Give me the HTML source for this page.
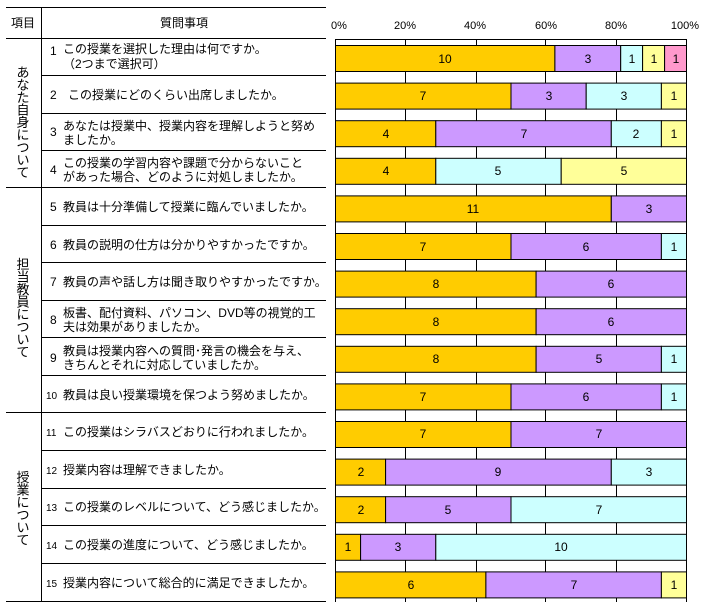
<!DOCTYPE html>
<html><head><meta charset="utf-8"><style>
body{margin:0;background:#fff;}
svg{display:block;font-family:"Liberation Sans","Noto Sans CJK JP",sans-serif;}
</style></head><body>
<svg width="706" height="615" xmlns="http://www.w3.org/2000/svg">
<g stroke="#000" stroke-width="1">
<line x1="6" y1="7.5" x2="326" y2="7.5"/>
<line x1="6" y1="38.5" x2="326" y2="38.5"/>
<line x1="6" y1="187.5" x2="326" y2="187.5"/>
<line x1="6" y1="412.5" x2="326" y2="412.5"/>
<line x1="6" y1="601.5" x2="326" y2="601.5"/>
<line x1="41.5" y1="7" x2="41.5" y2="602"/>
<line x1="41" y1="75.5" x2="326" y2="75.5"/>
<line x1="41" y1="113.5" x2="326" y2="113.5"/>
<line x1="41" y1="150.5" x2="326" y2="150.5"/>
<line x1="41" y1="225.5" x2="326" y2="225.5"/>
<line x1="41" y1="262.5" x2="326" y2="262.5"/>
<line x1="41" y1="300.5" x2="326" y2="300.5"/>
<line x1="41" y1="337.5" x2="326" y2="337.5"/>
<line x1="41" y1="375.5" x2="326" y2="375.5"/>
<line x1="41" y1="450.5" x2="326" y2="450.5"/>
<line x1="41" y1="488.5" x2="326" y2="488.5"/>
<line x1="41" y1="525.5" x2="326" y2="525.5"/>
<line x1="41" y1="563.5" x2="326" y2="563.5"/>
</g>
<g font-size="12" fill="#000">
<text x="11" y="27">項目</text>
<text x="184" y="27" text-anchor="middle">質問事項</text>
<text x="50" y="55">1</text><text x="63" y="53">この授業を選択した理由は何ですか。</text><text x="63" y="68">（2つまで選択可）</text>
<text x="50" y="99">2</text><text x="68" y="99">この授業にどのくらい出席しましたか。</text>
<text x="50" y="136">3</text><text x="63" y="130">あなたは授業中、授業内容を理解しようと努め</text><text x="63" y="144">ましたか。</text>
<text x="50" y="174">4</text><text x="63" y="167">この授業の学習内容や課題で分からないこと</text><text x="63" y="181">があった場合、どのように対処しましたか。</text>
<text x="50" y="211">5</text><text x="63" y="211">教員は十分準備して授業に臨んでいましたか。</text>
<text x="50" y="249">6</text><text x="63" y="249">教員の説明の仕方は分かりやすかったですか。</text>
<text x="50" y="286">7</text><text x="63" y="286">教員の声や話し方は聞き取りやすかったですか。</text>
<text x="50" y="324">8</text><text x="63" y="317">板書、配付資料、パソコン、DVD等の視覚的工</text><text x="63" y="331">夫は効果がありましたか。</text>
<text x="50" y="362">9</text><text x="63" y="355">教員は授業内容への質問･発言の機会を与え、</text><text x="63" y="369">きちんとそれに対応していましたか。</text>
<text x="46" y="399" font-size="10">10</text><text x="63" y="399">教員は良い授業環境を保つよう努めましたか。</text>
<text x="46" y="436" font-size="10">11</text><text x="63" y="436">この授業はシラバスどおりに行われましたか。</text>
<text x="46" y="474" font-size="10">12</text><text x="63" y="474">授業内容は理解できましたか。</text>
<text x="46" y="511" font-size="10">13</text><text x="63" y="511">この授業のレベルについて、どう感じましたか。</text>
<text x="46" y="549" font-size="10">14</text><text x="63" y="549">この授業の進度について、どう感じましたか。</text>
<text x="46" y="587" font-size="10">15</text><text x="63" y="587">授業内容について総合的に満足できましたか。</text>
</g>
<g font-size="13" fill="#000" text-anchor="middle">
<text x="23" y="77">あ</text><text x="23" y="89.5">な</text><text x="23" y="102">た</text><text x="23" y="114.5">自</text><text x="23" y="127">身</text><text x="23" y="139.5">に</text><text x="23" y="152">つ</text><text x="23" y="164.5">い</text><text x="23" y="177">て</text>
<text x="23" y="269">担</text><text x="23" y="281.5">当</text><text x="23" y="294">教</text><text x="23" y="306.5">員</text><text x="23" y="319">に</text><text x="23" y="331.5">つ</text><text x="23" y="344">い</text><text x="23" y="356.5">て</text>
<text x="23" y="482">授</text><text x="23" y="494.5">業</text><text x="23" y="507">に</text><text x="23" y="519.5">つ</text><text x="23" y="532">い</text><text x="23" y="544.5">て</text>
</g>
<g font-size="11" fill="#000" text-anchor="middle">
<text x="339" y="29">0%</text><text x="405" y="29">20%</text><text x="475" y="29">40%</text><text x="546" y="29">60%</text><text x="616" y="29">80%</text><text x="685" y="29">100%</text>
</g>
<g stroke="#000" stroke-width="1">
<line x1="335" y1="39.5" x2="686" y2="39.5"/>
<line x1="335.5" y1="39" x2="335.5" y2="602"/>
<line x1="405.5" y1="39" x2="405.5" y2="602"/>
<line x1="476.5" y1="39" x2="476.5" y2="602"/>
<line x1="545.5" y1="39" x2="545.5" y2="602"/>
<line x1="616.5" y1="39" x2="616.5" y2="602"/>
<line x1="686.5" y1="39" x2="686.5" y2="602"/>
</g>
<g stroke="#000" stroke-width="1">
<rect x="335.5" y="45.5" width="219.4" height="26" fill="#FFCC00"/><rect x="554.9" y="45.5" width="65.8" height="26" fill="#CC99FF"/><rect x="620.7" y="45.5" width="21.9" height="26" fill="#CCFFFF"/><rect x="642.6" y="45.5" width="22" height="26" fill="#FFFF99"/><rect x="664.6" y="45.5" width="21.9" height="26" fill="#FF99CC"/>
<rect x="335.5" y="83.1" width="175.5" height="26" fill="#FFCC00"/><rect x="511" y="83.1" width="75.2" height="26" fill="#CC99FF"/><rect x="586.2" y="83.1" width="75.2" height="26" fill="#CCFFFF"/><rect x="661.4" y="83.1" width="25.1" height="26" fill="#FFFF99"/>
<rect x="335.5" y="120.7" width="100.3" height="26" fill="#FFCC00"/><rect x="435.8" y="120.7" width="175.5" height="26" fill="#CC99FF"/><rect x="611.3" y="120.7" width="50.1" height="26" fill="#CCFFFF"/><rect x="661.4" y="120.7" width="25.1" height="26" fill="#FFFF99"/>
<rect x="335.5" y="158.3" width="100.3" height="26" fill="#FFCC00"/><rect x="435.8" y="158.3" width="125.4" height="26" fill="#CCFFFF"/><rect x="561.2" y="158.3" width="125.3" height="26" fill="#FFFF99"/>
<rect x="335.5" y="195.9" width="275.8" height="26" fill="#FFCC00"/><rect x="611.3" y="195.9" width="75.2" height="26" fill="#CC99FF"/>
<rect x="335.5" y="233.5" width="175.5" height="26" fill="#FFCC00"/><rect x="511" y="233.5" width="150.4" height="26" fill="#CC99FF"/><rect x="661.4" y="233.5" width="25.1" height="26" fill="#CCFFFF"/>
<rect x="335.5" y="271.1" width="200.6" height="26" fill="#FFCC00"/><rect x="536.1" y="271.1" width="150.4" height="26" fill="#CC99FF"/>
<rect x="335.5" y="308.7" width="200.6" height="26" fill="#FFCC00"/><rect x="536.1" y="308.7" width="150.4" height="26" fill="#CC99FF"/>
<rect x="335.5" y="346.3" width="200.6" height="26" fill="#FFCC00"/><rect x="536.1" y="346.3" width="125.3" height="26" fill="#CC99FF"/><rect x="661.4" y="346.3" width="25.1" height="26" fill="#CCFFFF"/>
<rect x="335.5" y="383.9" width="175.5" height="26" fill="#FFCC00"/><rect x="511" y="383.9" width="150.4" height="26" fill="#CC99FF"/><rect x="661.4" y="383.9" width="25.1" height="26" fill="#CCFFFF"/>
<rect x="335.5" y="421.5" width="175.5" height="26" fill="#FFCC00"/><rect x="511" y="421.5" width="175.5" height="26" fill="#CC99FF"/>
<rect x="335.5" y="459.1" width="50.1" height="26" fill="#FFCC00"/><rect x="385.6" y="459.1" width="225.7" height="26" fill="#CC99FF"/><rect x="611.3" y="459.1" width="75.2" height="26" fill="#CCFFFF"/>
<rect x="335.5" y="496.7" width="50.1" height="26" fill="#FFCC00"/><rect x="385.6" y="496.7" width="125.4" height="26" fill="#CC99FF"/><rect x="511" y="496.7" width="175.5" height="26" fill="#CCFFFF"/>
<rect x="335.5" y="534.3" width="25.1" height="26" fill="#FFCC00"/><rect x="360.6" y="534.3" width="75.2" height="26" fill="#CC99FF"/><rect x="435.8" y="534.3" width="250.7" height="26" fill="#CCFFFF"/>
<rect x="335.5" y="571.9" width="150.4" height="26" fill="#FFCC00"/><rect x="485.9" y="571.9" width="175.5" height="26" fill="#CC99FF"/><rect x="661.4" y="571.9" width="25.1" height="26" fill="#FFFF99"/>
</g>
<g font-size="12" fill="#000" text-anchor="middle">
<text x="445" y="63">10</text><text x="588" y="63">3</text><text x="632" y="63">1</text><text x="654" y="63">1</text><text x="676" y="63">1</text>
<text x="423" y="100">7</text><text x="549" y="100">3</text><text x="624" y="100">3</text><text x="674" y="100">1</text>
<text x="386" y="138">4</text><text x="524" y="138">7</text><text x="636" y="138">2</text><text x="674" y="138">1</text>
<text x="386" y="175">4</text><text x="498" y="175">5</text><text x="624" y="175">5</text>
<text x="473" y="213">11</text><text x="649" y="213">3</text>
<text x="423" y="251">7</text><text x="586" y="251">6</text><text x="674" y="251">1</text>
<text x="436" y="288">8</text><text x="611" y="288">6</text>
<text x="436" y="326">8</text><text x="611" y="326">6</text>
<text x="436" y="363">8</text><text x="599" y="363">5</text><text x="674" y="363">1</text>
<text x="423" y="401">7</text><text x="586" y="401">6</text><text x="674" y="401">1</text>
<text x="423" y="438">7</text><text x="599" y="438">7</text>
<text x="361" y="476">2</text><text x="498" y="476">9</text><text x="649" y="476">3</text>
<text x="361" y="514">2</text><text x="448" y="514">5</text><text x="599" y="514">7</text>
<text x="348" y="551">1</text><text x="398" y="551">3</text><text x="561" y="551">10</text>
<text x="411" y="589">6</text><text x="574" y="589">7</text><text x="674" y="589">1</text>
</g>
</svg>
</body></html>
